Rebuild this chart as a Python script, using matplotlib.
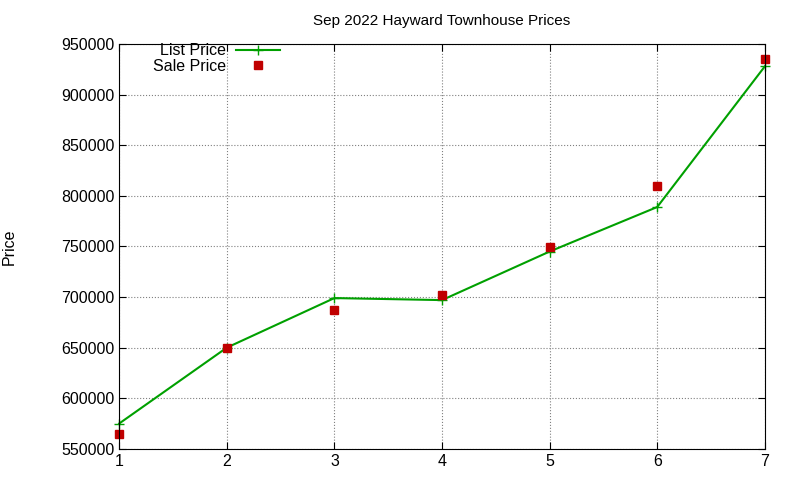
import matplotlib
matplotlib.use('Agg')
import matplotlib.pyplot as plt

plt.rcParams['font.family'] = ['Liberation Sans', 'DejaVu Sans']
plt.rcParams['font.size'] = 11.5

# data
listing = [1, 2, 3, 4, 5, 6, 7]
list_price = [575000, 650000, 699000, 697000, 745000, 789000, 928000]
sale_price = [565000, 650000, 687000, 702000, 749500, 810000, 935000]

fig = plt.figure(figsize=(8, 4.8), dpi=100)
ax = fig.add_axes([0.149, 0.065, 0.807, 0.843])

ax.plot(listing, list_price, color='#00a000', marker='+', markersize=7,
        linewidth=1.5, label='List Price', clip_on=False)
ax.plot(listing, sale_price, linestyle='none', marker='s', markersize=6,
        color='#c00000', label='Sale Price', clip_on=False)

ax.set_xlim(1, 7)
ax.set_ylim(550000, 950000)
ax.set_yticks(range(550000, 950001, 50000))
ax.set_xticks(listing)
ax.grid(True, linestyle=':', color='#808080', linewidth=0.8)
ax.tick_params(direction='in', length=5, top=True, right=True)
ax.set_ylabel('Price', labelpad=32)
ax.set_title('Sep 2022 Hayward Townhouse Prices', fontsize=11, pad=14)

ax.legend(loc='upper left', markerfirst=False, frameon=False,
          bbox_to_anchor=(0.035, 1.03), borderaxespad=0.3,
          handlelength=2.8, labelspacing=0.05, handletextpad=0.6)

fig.savefig('out.png', dpi=100)
